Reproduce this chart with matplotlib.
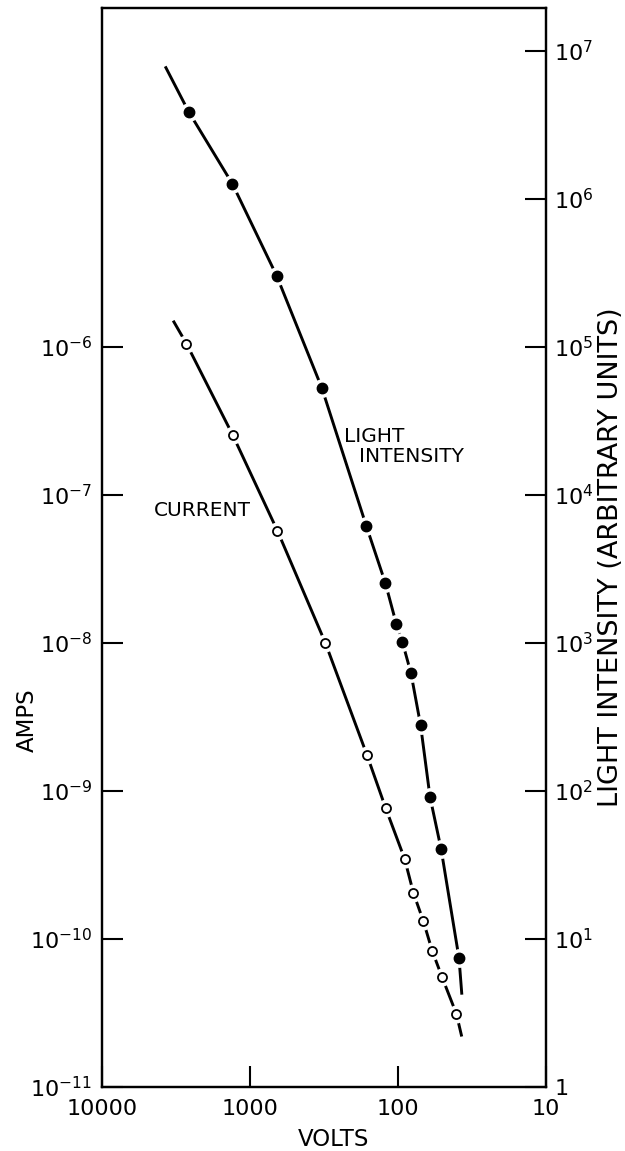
import numpy as np
import matplotlib.pyplot as plt

plt.rcParams['font.family'] = 'DejaVu Sans'
plt.rcParams['mathtext.fontset'] = 'dejavusans'

# current vs voltage (open circles), amps
cur_volts = [2690, 1306, 653, 310, 162, 121, 90.2, 78.6, 67.5, 58.8, 50.5, 40.3]
cur_amps = [1.05e-6, 2.52e-7, 5.71e-8, 1.0e-8, 1.74e-9, 7.6e-10, 3.46e-10,
            2.03e-10, 1.32e-10, 8.3e-11, 5.53e-11, 3.1e-11]
# ends of the drawn current curve
cur_line_volts = [3266, 37.3]
cur_line_amps = [1.47e-6, 2.23e-11]

# light intensity vs voltage (filled circles), arbitrary units
light_volts = [2597, 1315, 659, 327, 164, 121.6, 102.5, 93.5, 81.7, 70.4, 60.8, 51.1, 38.7]
light_int = [3.87e6, 1.26e6, 3.0e5, 5.26e4, 6180, 2520, 1331, 1016, 621, 278, 91, 40.2, 7.37]
light_line_volts = [3700, 37.1]
light_line_int = [7.68e6, 4.28]

amp_ticks = [1e-11, 1e-10, 1e-9, 1e-8, 1e-7, 1e-6]
amp_labels = ['$10^{-11}$', '$10^{-10}$', '$10^{-9}$', '$10^{-8}$', '$10^{-7}$', '$10^{-6}$']
light_ticks = [1, 1e1, 1e2, 1e3, 1e4, 1e5, 1e6, 1e7]
light_labels = ['1', '$10^{1}$', '$10^{2}$', '$10^{3}$', '$10^{4}$', '$10^{5}$', '$10^{6}$', '$10^{7}$']
volt_ticks = [10000, 1000, 100, 10]
volt_labels = ['10000', '1000', '100', '10']

W, H = 625, 1151
fig = plt.figure(figsize=(W / 100, H / 100), dpi=100)
ax = fig.add_axes([0.1632, 0.0559, 0.7104, 0.9372])
ax2 = ax.twinx()

ax.set_xscale('log')
ax.set_yscale('log')
ax2.set_yscale('log')
ax.set_xlim(1e4, 10)
ax.set_ylim(1e-11, 10 ** -3.711)
ax2.set_ylim(1, 10 ** 7.289)

# current curve, broken round the markers
x_cur = [cur_line_volts[0]] + cur_volts + [cur_line_volts[1]]
y_cur = [cur_line_amps[0]] + cur_amps + [cur_line_amps[1]]
ax.plot(x_cur, y_cur, color='black', lw=2.1, zorder=2)
ax.plot(cur_volts, cur_amps, 'o', ms=12, color='white', mec='white', zorder=3)
ax.plot(cur_volts, cur_amps, 'o', ms=6.5, mfc='white', mec='black', mew=1.3, zorder=4)

x_li = [light_line_volts[0]] + light_volts + [light_line_volts[1]]
y_li = [light_line_int[0]] + light_int + [light_line_int[1]]
ax2.plot(x_li, y_li, color='black', lw=2.1, zorder=2)
ax2.plot(light_volts, light_int, 'o', ms=12.5, color='white', mec='white', zorder=3)
ax2.plot(light_volts, light_int, 'o', ms=7.5, color='black', zorder=4)

ax.set_xticks(volt_ticks)
ax.set_xticklabels(volt_labels)
ax.set_yticks(amp_ticks)
ax.set_yticklabels(amp_labels)
ax2.set_yticks(light_ticks)
ax2.set_yticklabels(light_labels)
ax.minorticks_off()
ax2.minorticks_off()

ax.tick_params(axis='both', direction='in', length=15, width=1.5, labelsize=16)
ax.tick_params(axis='x', pad=9)
ax.tick_params(axis='y', pad=7)
ax2.tick_params(axis='y', direction='in', length=15, width=1.5, labelsize=16, pad=6)
for a in (ax, ax2):
    for s in a.spines.values():
        s.set_linewidth(1.6)

# axis titles placed where the reference has them
fig.text(334 / W, 1 - 1139 / H, 'VOLTS', fontsize=16.5, ha='center', va='center')
fig.text(27 / W, 1 - 720 / H, 'AMPS', fontsize=16.5, ha='center', va='center', rotation=90)
fig.text(611 / W, 1 - 557 / H, 'LIGHT INTENSITY (ARBITRARY UNITS)', fontsize=19.5,
         ha='center', va='center', rotation=90)

ax.text(0.117, 1 - (510.7 - 8) / 1078.7, 'CURRENT', transform=ax.transAxes,
        fontsize=14.5, va='center', ha='left')
ax.text(0.546, 1 - (436.7 - 8) / 1078.7, 'LIGHT', transform=ax.transAxes,
        fontsize=14.5, va='center', ha='left')
ax.text(0.579, 1 - (456.7 - 8) / 1078.7, 'INTENSITY', transform=ax.transAxes,
        fontsize=14.5, va='center', ha='left')

plt.savefig('out.png', dpi=100)
